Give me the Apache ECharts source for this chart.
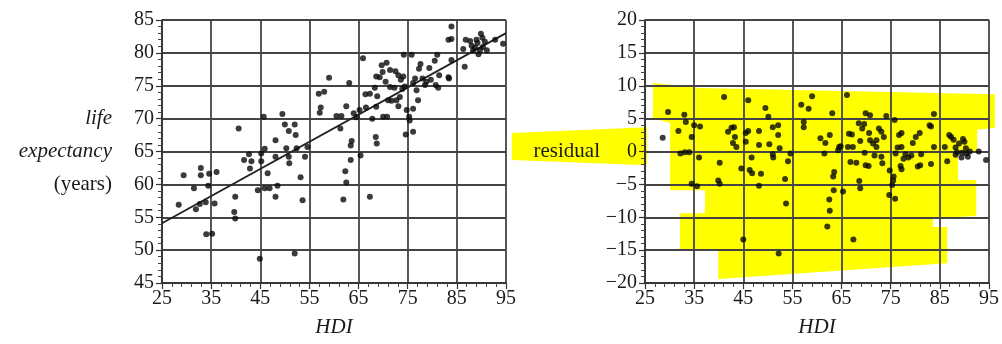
<!DOCTYPE html>
<html><head><meta charset="utf-8">
<script src="https://cdn.jsdelivr.net/npm/echarts@6/dist/echarts.min.js"></script>
<style>html,body{margin:0;padding:0;background:#fff}#c{width:1002px;height:344px}</style>
</head><body><div id="c"></div>
<script>
// Left panel: life expectancy vs HDI
const hdiL = [28.4,29.4,31.5,31.9,32.7,32.9,32.9,33.9,34.4,34.6,34.0,35.2,35.7,36.1,39.9,39.7,39.9,40.6,41.7,42.7,43.2,42.9,44.5,44.9,45.2,45.2,45.7,45.9,46.5,45.9,46.9,48.1,48.1,48.5,48.1,49.5,50.0,50.3,50.8,50.8,50.9,52.0,52.2,52.4,53.2,53.6,54.1,54.6,52.0,56.9,58.0,59.0,57.1,57.3,60.5,61.5,61.3,62.5,63.1,63.6,63.4,63.4,62.3,62.5,61.9,65.4,64.0,64.6,65.2,65.9,66.5,66.4,67.3,67.3,67.8,68.5,68.7,68.6,68.8,68.3,68.6,69.3,69.7,69.9,70.7,70.0,70.8,70.5,71.4,71.7,72.5,73.1,72.3,73.1,73.4,73.6,74.1,74.2,73.9,74.8,75.3,75.4,74.6,76.1,76.1,75.8,76.1,76.8,77.1,77.3,77.6,78.0,78.5,79.4,79.7,80.5,80.7,81.0,81.2,81.4,83.3,83.4,83.9,83.3,83.9,83.9,86.3,86.6,86.8,87.7,88.0,88.7,89.0,89.2,89.7,89.9,90.2,90.3,90.7,91.1,89.4,94.4,92.8,88.3,71.4,74.4,76.5,78.8,71.0,72.7];
const lifeL = [56.9,61.4,59.4,56.2,57.0,62.5,61.4,57.3,59.8,61.6,52.4,52.5,57.1,61.9,58.1,55.8,54.8,68.5,63.7,64.6,63.5,62.4,59.1,48.7,64.7,63.5,70.3,65.4,61.7,59.4,59.4,64.2,66.7,59.8,58.1,70.7,69.1,65.5,68.1,64.2,63.2,69.1,67.5,65.5,61.1,57.6,64.2,65.7,49.5,73.8,74.1,76.2,70.9,71.7,70.4,70.4,68.5,71.9,75.4,66.6,65.9,63.7,62.0,60.3,57.7,64.4,70.8,70.2,71.3,79.2,71.7,73.7,73.8,58.1,70.0,67.2,66.2,71.8,73.4,74.7,76.4,76.3,78.1,77.1,78.5,70.3,70.3,75.6,74.8,72.7,77.2,76.6,74.7,71.9,73.3,75.9,76.4,79.7,74.5,71.3,70.3,69.7,67.6,68.0,71.5,79.7,75.4,74.3,72.8,77.6,78.3,76.1,75.1,77.7,75.9,78.8,75.1,79.7,74.7,76.6,76.3,76.1,84.0,82.0,82.1,78.9,80.6,77.9,82.0,81.8,81.1,80.8,82.0,81.5,80.4,82.9,82.3,80.9,81.7,80.4,79.8,81.4,82.0,80.4,77.4,74.9,76.1,75.6,72.8,72.8];
const fitX = [25, 95];
const fitY = [54.1, 83.0];

// Right panel: residuals vs HDI
const hdiR = [28.6,29.7,31.8,32.2,33.0,33.3,33.1,34.0,34.5,35.0,36.2,34.5,35.6,36.0,39.9,40.2,40.2,41.1,41.9,42.6,43.1,43.3,42.9,43.6,44.6,45.0,45.5,45.5,46.0,46.0,46.3,46.8,46.7,48.2,48.2,48.2,48.6,49.5,50.1,50.3,51.0,51.0,51.1,52.1,52.1,52.4,52.2,53.5,53.7,54.1,54.6,56.8,57.3,57.3,58.3,59.0,60.7,61.5,61.7,62.1,62.5,62.6,62.6,63.1,63.3,63.5,63.4,64.3,64.5,64.8,65.3,66.1,66.3,66.5,67.1,67.4,68.0,68.6,68.8,68.8,68.5,69.2,69.6,69.9,70.8,69.7,69.9,70.5,70.6,71.4,71.7,72.1,72.6,73.1,73.3,73.1,73.6,74.1,74.7,74.8,75.3,75.5,75.6,75.9,75.8,76.0,76.4,76.7,77.0,77.2,77.2,77.6,78.0,79.2,79.5,80.1,80.5,81.0,81.2,80.9,82.9,83.2,83.8,83.8,83.2,86.0,86.5,86.9,87.3,87.8,88.2,88.5,88.9,89.4,89.7,90.0,90.3,90.4,90.7,91.1,92.9,94.4,88.2,89.5,70.8,72.1,67.3,66.8,77.2,78.6];
const resR = [2.1,6.0,3.1,-0.3,5.6,4.5,-0.1,-0.1,2.2,4.0,3.8,-4.9,-5.3,-0.9,-4.4,-4.9,-1.7,8.3,3.0,3.6,3.7,2.2,1.3,0.7,-2.6,-13.4,2.8,1.5,7.8,3.1,-2.8,-3.3,-0.9,3.1,1.0,-5.2,-3.4,6.6,5.3,1.1,3.7,-0.4,-0.9,4.0,2.5,0.5,-15.5,-4.2,-7.9,-1.5,-0.3,7.1,4.5,3.7,6.5,8.4,2.0,-0.3,1.3,-11.4,-7.3,-9.0,2.5,5.8,-3.8,-3.1,-5.9,0.2,0.7,0.8,-6.1,8.6,0.7,2.7,2.6,-13.4,-1.7,-4.5,-5.6,1.6,4.3,3.5,4.2,5.8,5.5,-0.2,-2.1,-2.2,2.8,1.2,-0.6,1.7,3.5,3.0,-1.8,-0.8,2.2,5.4,-6.6,-2.9,-5.1,-4.4,-3.8,-7.2,4.8,-0.3,0.6,2.5,-2.2,-2.7,2.8,-1.1,-0.4,-0.6,1.3,2.2,-2.3,-2.1,-0.4,2.8,4.0,3.8,5.7,0.7,-1.9,0.7,-1.5,2.5,2.2,1.8,0.6,-0.1,1.2,-0.9,1.9,1.5,0.5,-0.3,-0.8,0.0,0.0,-1.3,-0.5,-0.2,1.7,0.7,0.7,-1.6,0.7,-0.9];

// Highlighter annotation outlines (data units of the right panel)
const highlightArea = [[26.6,10.4],[36.2,9.65],[96.2,8.7],[96.2,3.6],[92.6,3.3],[92.6,-0.2],[88.7,-0.2],[88.7,-4.35],[92.4,-4.35],[92.4,-9.8],[83.6,-10.1],[83.6,-11.5],[86.5,-11.5],[86.5,-17.0],[39.9,-19.4],[39.9,-15.0],[32.1,-15.0],[32.1,-9.4],[37.2,-9.4],[37.2,-5.9],[30.1,-5.9],[30.1,4.3],[26.6,5.1]];
const highlightLabel = [[-2.1,2.8],[25.4,3.7],[25.4,-2.1],[-2.1,-1.3]];

const xTicks = [25,35,45,55,65,75,85,95];
const yTicksL = [45,50,55,60,65,70,75,80,85];
const yTicksR = [-20,-15,-10,-5,0,5,10,15,20];

const FONT = 'Liberation Serif';
const TXT = '#1a1a1a';
const GRIDC = '#444';

function xAxisCfg(gi){
  return {
    gridIndex: gi, type:'value', min: xTicks[0], max: xTicks[xTicks.length-1], interval: 10, z: 1,
    name: 'HDI', nameLocation: 'middle', nameGap: 34,
    nameTextStyle: {fontFamily: FONT, fontStyle: 'italic', fontSize: 21, color: TXT},
    axisLine: {show: true, onZero: false, lineStyle: {color: '#333', width: 1.6}},
    axisTick: {show: true, length: 6, inside: false, lineStyle: {color: '#333', width: 1.2}},
    minorTick: {show: true, splitNumber: 5, length: 4, lineStyle: {color: '#444', width: 1}},
    axisLabel: {fontFamily: FONT, fontSize: 20, color: TXT, margin: 6},
    splitLine: {show: true, lineStyle: {color: GRIDC, width: 1.8}}
  };
}
function yAxisCfg(gi, ticks, extra){
  return Object.assign({
    gridIndex: gi, type:'value', min: ticks[0], max: ticks[ticks.length-1], interval: 5, z: 1,
    axisLine: {show: true, onZero: false, lineStyle: {color: '#333', width: 1.6}},
    axisTick: {show: true, length: 6, lineStyle: {color: '#333', width: 1.2}},
    minorTick: {show: true, splitNumber: 5, length: 4, lineStyle: {color: '#444', width: 1}},
    axisLabel: {fontFamily: FONT, fontSize: 20, color: TXT, margin: 8,
      formatter: v => v < 0 ? '\u2212' + Math.abs(v) : String(v)},
    splitLine: {show: true, lineStyle: {color: GRIDC, width: 1.8}}
  }, extra);
}

const chart = echarts.init(document.getElementById('c'), null, {renderer: 'canvas'});
chart.setOption({
  backgroundColor: '#fff',
  animation: false,
  grid: [
    {left: 162, top: 20, width: 344, height: 263},
    {left: 645, top: 20, width: 344, height: 263}
  ],
  xAxis: [xAxisCfg(0), xAxisCfg(1)],
  yAxis: [
    yAxisCfg(0, yTicksL, {
      name: '{i|life}\n{i|expectancy}\n{n|(years)}',
      nameLocation: 'middle', nameRotate: 0, nameGap: 50,
      nameTextStyle: {align: 'right', verticalAlign: 'middle',
        rich: {
          i: {fontFamily: FONT, fontStyle: 'italic', fontSize: 21, color: TXT, lineHeight: 33, align: 'right'},
          n: {fontFamily: FONT, fontSize: 21, color: TXT, lineHeight: 33, align: 'right'}
        }}
    }),
    yAxisCfg(1, yTicksR, {
      name: 'residual', nameLocation: 'middle', nameRotate: 0, nameGap: 45,
      nameTextStyle: {fontFamily: FONT, fontSize: 21, color: TXT, align: 'right', verticalAlign: 'middle'}
    })
  ],
  series: [
    {
      type: 'custom', xAxisIndex: 1, yAxisIndex: 1, z: 0, clip: false, silent: true,
      data: [[0, 0]],
      renderItem: (params, api) => ({
        type: 'group',
        children: [
          {type: 'polygon', shape: {points: highlightArea.map(p => api.coord(p))}, style: {fill: '#ffff00'}},
          {type: 'polygon', shape: {points: highlightLabel.map(p => api.coord(p))}, style: {fill: '#ffff00'}}
        ]
      })
    },
    {
      type: 'line', xAxisIndex: 0, yAxisIndex: 0, z: 3,
      data: fitX.map((x, i) => [x, fitY[i]]),
      showSymbol: false, symbol: 'none',
      lineStyle: {color: '#222', width: 1.8}
    },
    {
      type: 'scatter', xAxisIndex: 0, yAxisIndex: 0, z: 4,
      data: hdiL.map((x, i) => [x, lifeL[i]]),
      symbolSize: 6, itemStyle: {color: '#0a0a0a'}
    },
    {
      type: 'scatter', xAxisIndex: 1, yAxisIndex: 1, z: 4,
      data: hdiR.map((x, i) => [x, resR[i]]),
      symbolSize: 6, itemStyle: {color: '#0a0a0a'}
    }
  ]
});
</script>
</body></html>
